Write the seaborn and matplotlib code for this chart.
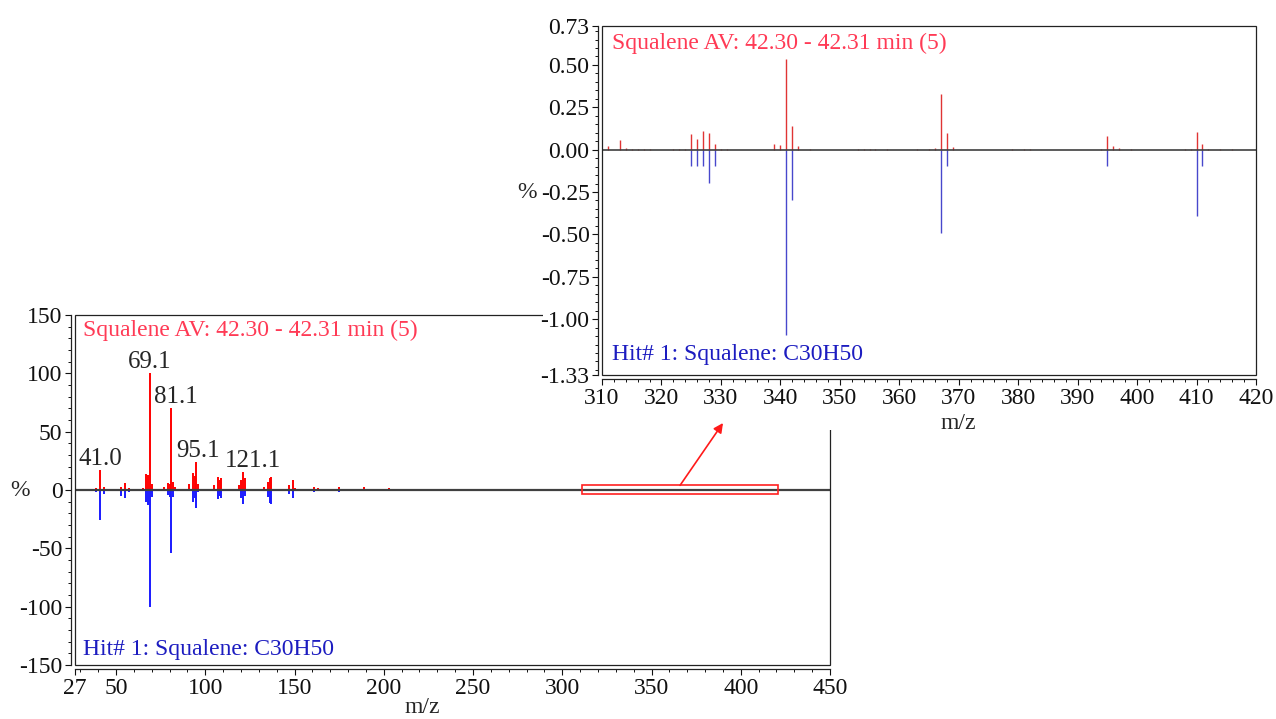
import numpy as np
import pandas as pd
import seaborn as sns
import matplotlib.pyplot as plt
from matplotlib.patches import Rectangle
from matplotlib.ticker import MultipleLocator, FixedLocator, FormatStrFormatter

# measured spectrum (red, upwards), m/z vs relative intensity (%)
sample_mz = [39, 41, 43, 53, 55, 57, 65, 67, 68, 69, 70, 77, 79, 80, 81, 82, 83,
             91, 93, 94, 95, 96, 105, 107, 108, 109, 119, 120, 121, 122,
             133, 135, 136, 137, 147, 149, 150, 161, 163, 175, 177, 189, 191, 203, 217, 231,
             311, 313, 314, 315, 316, 317, 318, 322, 323, 324, 325, 326, 327, 328, 329, 330, 331,
             339, 340, 341, 342, 343, 345, 353, 354, 355, 356, 358, 363, 365, 366, 367, 368, 369,
             379, 381, 382, 394, 395, 396, 397, 399, 408, 409, 410, 411, 412, 414, 416]
sample_int = [1.5, 17, 3, 3, 6, 2, 2, 13.5, 13, 100, 5, 3, 6, 5, 70, 7, 3,
              5.5, 14.5, 12, 24, 5.5, 4, 11, 8.5, 10, 4, 9, 15.5, 10,
              3, 7, 10.5, 11, 4, 8.8, 2, 3, 2, 3, 1, 2.5, 1, 1.5, 0.5, 0.5,
              0.02, 0.055, 0.01, 0.004, 0.004, 0.004, 0.004, 0.004, 0.004, 0.005,
              0.094, 0.065, 0.112, 0.098, 0.031, 0.006, 0.005,
              0.035, 0.025, 0.535, 0.141, 0.02, 0.004, 0.006, 0.006, 0.006, 0.003, 0.003,
              0.003, 0.004, 0.01, 0.327, 0.098, 0.015,
              0.003, 0.005, 0.003, 0.005, 0.078, 0.02, 0.012, 0.003,
              0.004, 0.005, 0.106, 0.035, 0.005, 0.003, 0.003]

# library hit spectrum (blue, drawn downwards)
library_mz = [39, 41, 43, 53, 55, 57, 67, 68, 69, 70, 79, 80, 81, 82,
              93, 94, 95, 96, 107, 108, 109, 120, 121, 122, 135, 136, 137,
              147, 149, 161, 175, 189, 203,
              325, 326, 327, 328, 329, 341, 342, 367, 368, 395, 410, 411]
library_int = [2, 26, 3, 5, 7, 1.5, 10, 13, 100, 6, 4, 6, 54, 6,
               10, 7, 15.5, 2, 7.5, 5, 7, 7, 12, 5, 6, 11, 12,
               3, 7, 2, 1.5, 1, 0.5,
               0.098, 0.098, 0.098, 0.196, 0.098, 1.094, 0.298, 0.494, 0.098, 0.098, 0.392, 0.098]

peak_labels = [41.0, 69.1, 81.1, 95.1, 121.1]
sample_title = "Squalene AV: 42.30 - 42.31 min (5)"
hit_title = "Hit# 1: Squalene: C30H50"

main_xticks = [27, 50, 100, 150, 200, 250, 300, 350, 400, 450]
inset_yticks = [-1.33, -1.00, -0.75, -0.50, -0.25, 0.00, 0.25, 0.50, 0.73]

sample = pd.DataFrame({"mz": sample_mz, "val": sample_int})
library = pd.DataFrame({"mz": library_mz, "val": np.negative(library_int)})

sns.set_theme(style="ticks")
plt.rcParams["font.family"] = ["Liberation Serif", "DejaVu Serif"]
plt.rcParams["axes.unicode_minus"] = False
plt.rcParams["xtick.direction"] = "out"
plt.rcParams["ytick.direction"] = "out"

FS = 17
RED_TXT = "#ff3a55"
BLUE_TXT = "#1c1cc0"

fig = plt.figure(figsize=(12.76, 7.19), dpi=100)
W, H = 1276, 719


def frac(x0, y0, x1, y1):
    return [x0 / W, 1 - y1 / H, (x1 - x0) / W, (y1 - y0) / H]


def style_axes(ax):
    for s in ["top", "right"]:
        ax.spines[s].set_visible(False)
    for s in ["left", "bottom"]:
        ax.spines[s].set_position(("outward", 3))
        ax.spines[s].set_linewidth(0.9)
        ax.spines[s].set_color("#222222")
    ax.add_patch(Rectangle((0, 0), 1, 1, transform=ax.transAxes, fill=False,
                           lw=0.9, ec="#222222", clip_on=False, zorder=5))
    ax.tick_params(which="major", length=4, width=0.8, labelsize=FS, pad=2, colors="#111111")
    ax.tick_params(which="minor", length=2.2, width=0.7, colors="#111111")
    ax.set_facecolor("white")


# ---- main spectrum ----
ax = fig.add_axes(frac(75, 315, 830, 665))
ax.set_zorder(0)
ax.vlines(sample["mz"], 0, sample["val"], color="#ff0000", lw=1.4)
ax.vlines(library["mz"], 0, library["val"], color="#1a1aff", lw=1.4)
ax.axhline(0, color="#404040", lw=1.6, zorder=3)
ax.set_xlim(27, 450)
ax.set_ylim(-150, 150)
ax.xaxis.set_major_locator(FixedLocator(main_xticks))
ax.xaxis.set_minor_locator(MultipleLocator(10))
ax.yaxis.set_major_locator(MultipleLocator(50))
ax.yaxis.set_minor_locator(MultipleLocator(10))
style_axes(ax)
ax.set_xlabel("m/z", fontsize=FS)
ax.xaxis.set_label_coords(0.46, -0.092)
ax.set_ylabel("%", fontsize=FS, rotation=0, va="center", ha="center")
ax.yaxis.set_label_coords(-0.073, 0.5)
ax.text(0.011, 0.955, sample_title, transform=ax.transAxes, color=RED_TXT,
        fontsize=FS, va="center", ha="left")
ax.text(0.011, 0.045, hit_title, transform=ax.transAxes, color=BLUE_TXT,
        fontsize=FS, va="center", ha="left")

shifts = {41.0: 0, 69.1: 0, 81.1: 3, 95.1: 1, 121.1: 7}
for lab in peak_labels:
    row = sample.iloc[(sample["mz"] - lab).abs().argmin()]
    ax.annotate(f"{lab:.1f}", xy=(row["mz"], row["val"]), xytext=(shifts[lab], 0),
                textcoords="offset points", ha="center", va="bottom", fontsize=FS + 1)

# zoom box
ax.add_patch(Rectangle((311, -3.5), 110, 7.5, fill=False, ec="#ff2020", lw=1.2, zorder=4))

# white backing behind inset and its labels
fig.add_artist(Rectangle((543 / W, 1 - 430 / H), (1272 - 543) / W, (430 - 4) / H,
                         transform=fig.transFigure, fc="white", ec="none", zorder=1))

# ---- inset (zoom 310-420) ----
ax2 = fig.add_axes(frac(602, 26, 1256, 375))
ax2.set_zorder(2)
ax2.vlines(sample["mz"], 0, sample["val"], color="#e03434", lw=1.0)
ax2.vlines(library["mz"], 0, library["val"], color="#4848cc", lw=1.0)
ax2.axhline(0, color="#404040", lw=1.2, zorder=3)
ax2.set_xlim(310, 420)
ax2.set_ylim(-1.33, 0.73)
ax2.xaxis.set_major_locator(MultipleLocator(10))
ax2.xaxis.set_minor_locator(MultipleLocator(2))
ax2.yaxis.set_major_locator(FixedLocator(inset_yticks))
ax2.yaxis.set_minor_locator(FixedLocator(np.arange(-1.30, 0.71, 0.05)))
ax2.yaxis.set_major_formatter(FormatStrFormatter("%.2f"))
style_axes(ax2)
ax2.set_xlabel("m/z", fontsize=FS)
ax2.xaxis.set_label_coords(0.544, -0.11)
ax2.set_ylabel("%", fontsize=FS, rotation=0, va="center", ha="center")
ax2.yaxis.set_label_coords(-0.115, (-0.25 + 1.33) / 2.06)
ax2.text(0.015, 0.95, sample_title, transform=ax2.transAxes, color=RED_TXT,
         fontsize=FS, va="center", ha="left")
ax2.text(0.015, 0.06, hit_title, transform=ax2.transAxes, color=BLUE_TXT,
         fontsize=FS, va="center", ha="left")

# arrow from zoom box to inset
ax2.annotate("", xy=(723 / W, 1 - 423 / H), xycoords="figure fraction",
             xytext=(366, 4), textcoords=ax.transData, annotation_clip=False,
             arrowprops=dict(arrowstyle="-|>", color="#ff1a1a", lw=1.2,
                             mutation_scale=14, shrinkA=0, shrinkB=0))

fig.savefig("out.png", dpi=100, facecolor="white")
